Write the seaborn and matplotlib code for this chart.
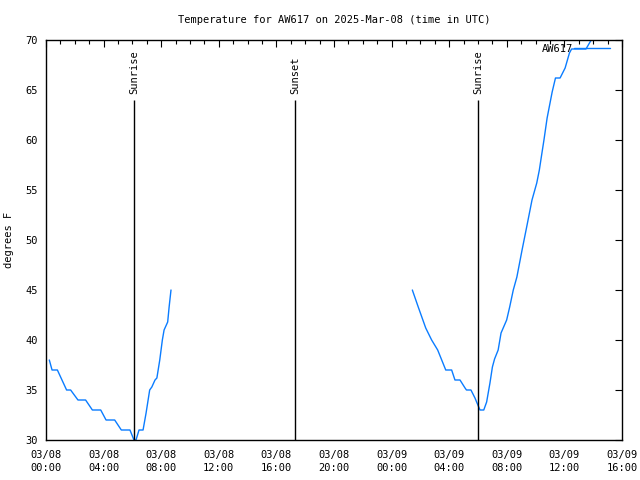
import matplotlib
matplotlib.use("Agg")
import matplotlib.pyplot as plt
import matplotlib.dates as mdates
import seaborn as sns
import pandas as pd
import numpy as np

# ---- data ----
start = pd.Timestamp("2025-03-08 00:00")
seg1_hours = [0.23, 0.42, 0.79, 1.43, 1.71, 2.22, 2.75, 3.22, 3.80, 4.17, 4.77,
              5.23, 5.83, 6.11, 6.25, 6.46, 6.74, 6.95, 7.20, 7.35, 7.57, 7.70,
              7.90, 8.08, 8.20, 8.45, 8.55, 8.68]
seg1_temps = [38, 37, 37, 35, 35, 34, 34, 33, 33, 32, 32,
              31, 31, 30, 30, 31, 31, 32.7, 35, 35.3, 36, 36.2,
              38, 40, 41, 41.8, 43.3, 45]
seg2_hours = [25.44, 25.85, 26.37, 26.78, 27.20, 27.76, 28.17, 28.40, 28.75, 29.10,
              29.20, 29.51, 29.79, 30.02, 30.14, 30.40, 30.60, 30.83, 31.00, 31.15,
              31.40, 31.60, 31.99, 32.20, 32.45, 32.70, 33.06, 33.38, 33.75, 34.08,
              34.26, 34.44, 34.58, 34.80, 35.15, 35.38, 35.70, 36.05, 36.35, 36.50,
              37.50, 38.10]
seg2_temps = [45, 43.3, 41.2, 40, 39, 37, 37, 36, 36, 35.2,
              35, 35, 34.2, 33.4, 33, 33, 33.8, 35.7, 37.3, 38.1,
              39, 40.7, 42, 43.3, 45, 46.3, 49, 51.3, 54, 55.7,
              57, 58.7, 60, 62.2, 64.8, 66.2, 66.2, 67.2, 68.7, 69.1,
              69.1, 70.6]
event_hours = [6.11, 17.29, 30.0]
event_labels = ["Sunrise", "Sunset", "Sunrise"]
station = "AW617"
title = "Temperature for AW617 on 2025-Mar-08 (time in UTC)"

df1 = pd.DataFrame({"time": start + pd.to_timedelta(seg1_hours, unit="h"), "temp": seg1_temps})
df2 = pd.DataFrame({"time": start + pd.to_timedelta(seg2_hours, unit="h"), "temp": seg2_temps})

sns.set_theme(style="white")
plt.rcParams["font.family"] = ["DejaVu Sans Mono"]
plt.rcParams["font.size"] = 7
plt.rcParams["text.color"] = "black"
plt.rcParams["axes.labelcolor"] = "black"
plt.rcParams["xtick.color"] = "black"
plt.rcParams["ytick.color"] = "black"

fig = plt.figure(figsize=(6.4, 4.8), dpi=100)
ax = fig.add_axes([46/640, 40/480, 576/640, 400/480])

color = "#0a7cff"
sns.lineplot(data=df1, x="time", y="temp", ax=ax, color=color, lw=1, label=station)
sns.lineplot(data=df2, x="time", y="temp", ax=ax, color=color, lw=1)

for h, lab in zip(event_hours, event_labels):
    t = start + pd.Timedelta(hours=h)
    ax.vlines(t, 30, 64, color="black", lw=1)
    ax.text(t, 64.6, lab, rotation=90, ha="center", va="bottom", fontsize=7.5, color="black")

ax.set_xlim(start, start + pd.Timedelta(hours=40))
ax.set_ylim(30, 70)
ax.set_yticks(np.arange(30, 71, 5))
ax.xaxis.set_major_locator(mdates.HourLocator(byhour=[0, 4, 8, 12, 16, 20]))
ax.xaxis.set_minor_locator(mdates.HourLocator())
ax.xaxis.set_major_formatter(mdates.DateFormatter("%m/%d\n%H:%M"))

for s in ax.spines.values():
    s.set_color("black")
    s.set_linewidth(1)
ax.tick_params(which="both", direction="in", top=True, right=True, colors="black",
               labelcolor="black", labelsize=7.5, width=0.8)
ax.tick_params(which="major", length=5)
ax.tick_params(which="minor", length=3)
ax.tick_params(axis="y", which="major", pad=6)
ax.tick_params(axis="x", which="major", pad=7)
for lbl in ax.get_xticklabels():
    lbl.set_linespacing(1.4)

ax.set_xlabel("")
ax.set_ylabel("degrees F", fontsize=7.5, color="black")
ax.yaxis.set_label_coords(-0.0555, 0.5)
ax.set_title(title, fontsize=7.5, pad=12, color="black")

leg = ax.legend(loc="upper right", frameon=False, markerfirst=False,
                bbox_to_anchor=(1 - 12/576, 1 - 4/400), borderaxespad=0, borderpad=0,
                handlelength=3.5, handletextpad=0.05, fontsize=7.5)
for t in leg.get_texts():
    t.set_color("black")

fig.savefig("out.png", dpi=100, facecolor="white")
